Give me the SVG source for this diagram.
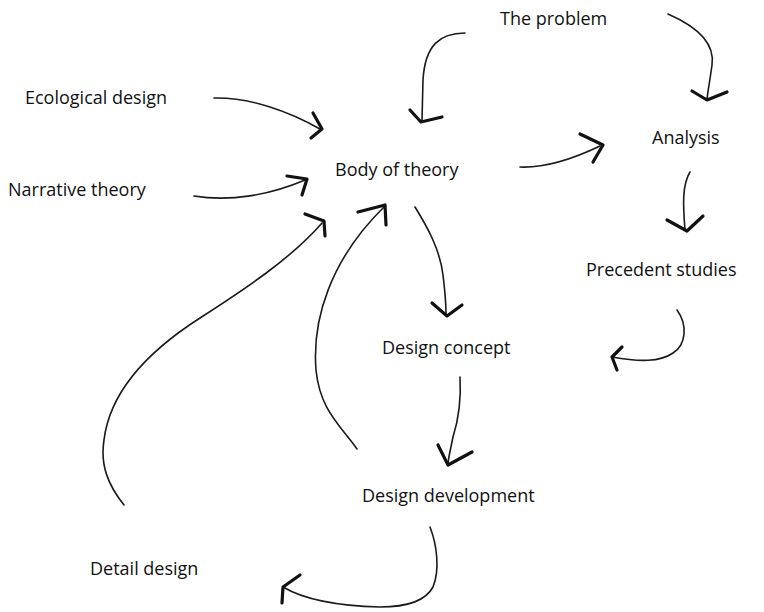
<svg xmlns="http://www.w3.org/2000/svg" width="764" height="612" viewBox="0 0 764 612">
<style>
text{font-family:"Open Sans","Noto Sans","Liberation Sans",sans-serif;font-size:18px;fill:#111}
.ln{fill:none;stroke:#1a1a1a;stroke-width:1.6;stroke-linecap:round}
.hd{fill:none;stroke:#111;stroke-width:3.2;stroke-linecap:round;stroke-linejoin:round}
</style>
<rect width="764" height="612" fill="#fff"/>
<g id="connectors">
<path class="ln" d="M465,33 C440,33 425,45 423,80 L422,120"/>
<polyline class="hd" points="410,110 421,122 442,117"/>
<path class="ln" d="M668,14 C700,28 715,45 712,65 C710,80 708,90 707,99"/>
<polyline class="hd" points="692,91 707,100 727,92"/>
<path class="ln" d="M214,98 C250,97 290,112 320,129"/>
<polyline class="hd" points="313,113 322,129 311,138"/>
<path class="ln" d="M194,196 C230,202 270,195 305,180"/>
<polyline class="hd" points="287,176 307,179 302,195"/>
<path class="ln" d="M124,505 C108,485 100,465 104,440 C110,390 150,350 200,318 C240,292 290,260 322,223"/>
<polyline class="hd" points="305,214 324,221 325,236"/>
<path class="ln" d="M357,449 C340,425 320,410 316,370 C312,320 330,260 384,207"/>
<polyline class="hd" points="358,212 385,205 386,225"/>
<path class="ln" d="M520,167 C545,168 575,158 600,146"/>
<polyline class="hd" points="580,134 603,145 593,162"/>
<path class="ln" d="M415,207 C428,228 440,250 443,275 C445,292 446,300 446,314"/>
<polyline class="hd" points="432,303 447,316 462,305"/>
<path class="ln" d="M690,172 C682,185 683,205 685,230"/>
<polyline class="hd" points="667,220 687,231 703,216"/>
<path class="ln" d="M677,310 C688,325 686,345 673,353 C660,362 640,362 612,357"/>
<polyline class="hd" points="622,347 612,357 617,370"/>
<path class="ln" d="M460,377 C461,395 460,415 453,437 C451,447 449,455 448,463"/>
<polyline class="hd" points="438,445 448,465 472,452"/>
<path class="ln" d="M430,527 C437,545 440,570 433,587 C425,602 405,607 380,607 C340,606 305,600 283,587"/>
<polyline class="hd" points="300,575 283,587 282,603"/>
</g>
<g id="n-problem"><text x="500" y="25">The problem</text></g>
<g id="n-ecological"><text x="25" y="104">Ecological design</text></g>
<g id="n-body"><text x="335" y="176">Body of theory</text></g>
<g id="n-analysis"><text x="652" y="144">Analysis</text></g>
<g id="n-narrative"><text x="8" y="196">Narrative theory</text></g>
<g id="n-precedent"><text x="586" y="276">Precedent studies</text></g>
<g id="n-concept"><text x="382" y="354">Design concept</text></g>
<g id="n-development"><text x="362" y="502">Design development</text></g>
<g id="n-detail"><text x="90" y="575">Detail design</text></g>
</svg>
